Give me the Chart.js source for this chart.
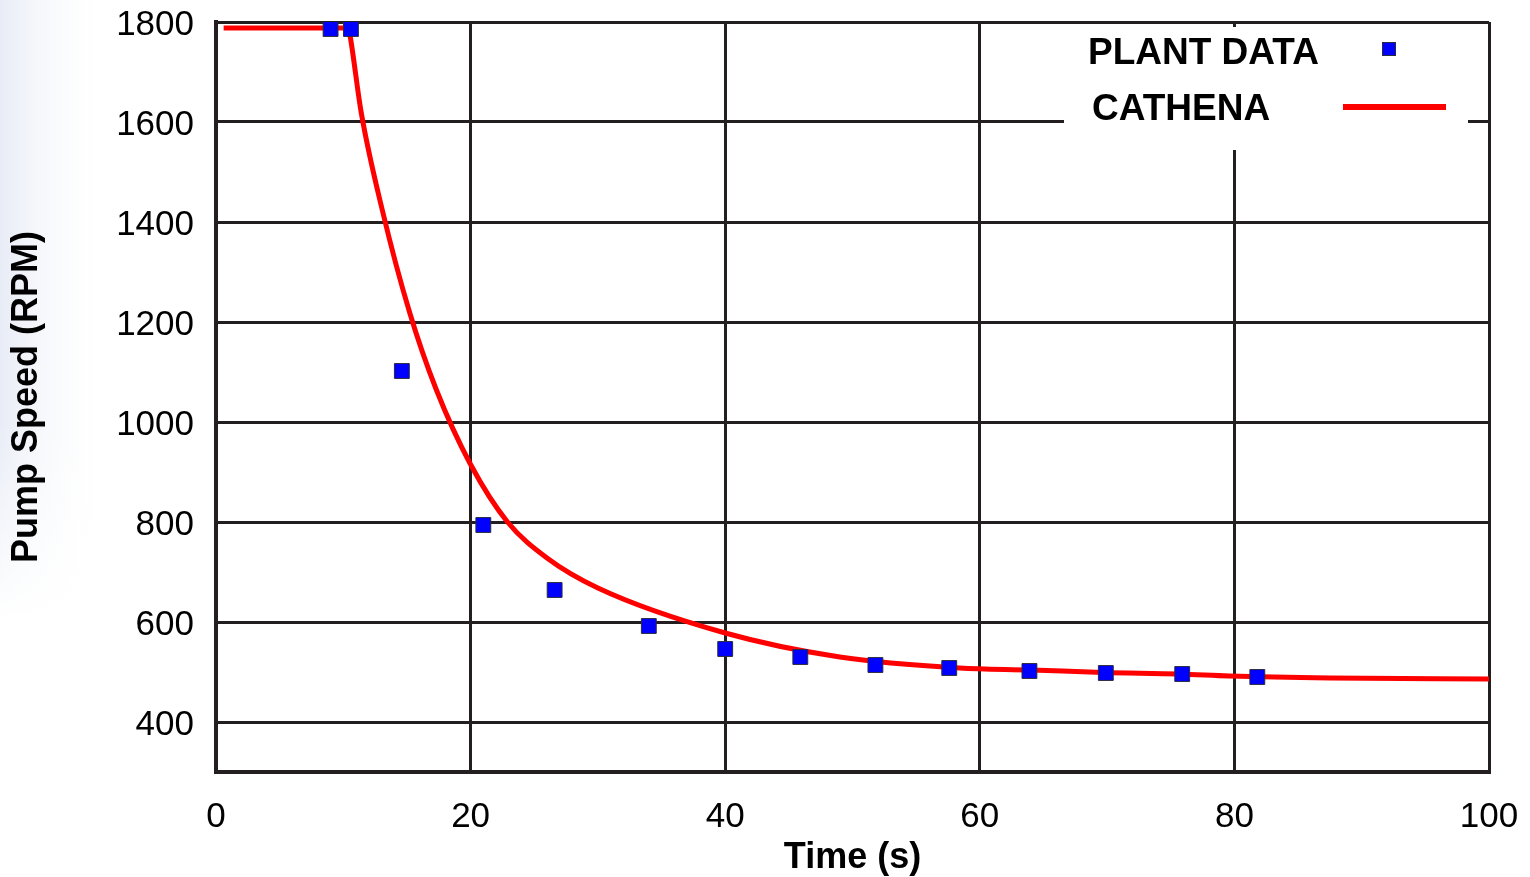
<!DOCTYPE html>
<html>
<head>
<meta charset="utf-8">
<script src="https://cdn.jsdelivr.net/npm/chart.js@4.4.1/dist/chart.umd.min.js"></script>
<style>
  html, body { margin: 0; padding: 0; background: #ffffff; }
  #wrap { width: 1530px; height: 877px; position: relative; }
</style>
</head>
<body>
<div id="wrap"><canvas id="c" width="1530" height="877"></canvas></div>
<script>
// ---- data ----
const plantTime  = [9.0, 10.6, 14.6, 21.0, 26.6, 34.0, 40.0, 45.9, 51.8, 57.6, 63.9, 69.9, 75.9, 81.8];
const plantSpeed = [1786, 1786, 1102, 794, 664, 592, 546, 530, 514, 508, 502, 498, 496, 490];

const cathenaTime  = [0.6, 10.4, 10.55, 11.4, 13.1, 15.2, 17.3, 20.0, 22.9, 26.0, 30.0, 40.0, 49.0, 58.4, 64.0, 69.7, 75.7, 79.6, 87.5, 100];
const cathenaSpeed = [1788, 1788, 1770, 1620, 1420, 1220, 1065, 915, 800, 728, 668, 578, 530, 508, 504, 499, 496, 492, 488, 486];

const xTicks = [0, 20, 40, 60, 80, 100];
const yTicks = [400, 600, 800, 1000, 1200, 1400, 1600, 1800];

const seriesNames = ['PLANT DATA', 'CATHENA'];
const xTitle = 'Time (s)';
const yTitle = 'Pump Speed (RPM)';

const FONT = '"Liberation Sans", Arial, Helvetica, sans-serif';
const GRID = '#231f20';

const bgPlugin = {
  id: 'bg',
  beforeDraw(chart) {
    const ctx = chart.ctx;
    ctx.save();
    ctx.fillStyle = '#ffffff';
    ctx.fillRect(0, 0, chart.width, chart.height);
    const g = ctx.createLinearGradient(0, 0, 110, 0);
    g.addColorStop(0, 'rgba(232,236,246,1)');
    g.addColorStop(1, 'rgba(255,255,255,0)');
    ctx.fillStyle = g;
    ctx.fillRect(0, 0, 110, 620);
    const v = ctx.createLinearGradient(0, 420, 0, 620);
    v.addColorStop(0, 'rgba(255,255,255,0)');
    v.addColorStop(1, 'rgba(255,255,255,1)');
    ctx.fillStyle = v;
    ctx.fillRect(0, 420, 110, 200);
    ctx.restore();
  }
};

const legendPlugin = {
  id: 'boxLegend',
  afterDatasetsDraw(chart) {
    const ctx = chart.ctx;
    const ds0 = chart.data.datasets[0];
    const ds1 = chart.data.datasets[1];
    ctx.save();
    ctx.fillStyle = '#ffffff';
    ctx.fillRect(1064, 27, 404, 123);
    ctx.font = 'bold 37px ' + FONT;
    ctx.fillStyle = '#000000';
    ctx.textBaseline = 'middle';
    ctx.textAlign = 'left';
    ctx.fillText(ds0.label, 1088, 54);
    ctx.fillText(ds1.label, 1092, 110);
    // marker
    ctx.fillStyle = ds0.pointBackgroundColor;
    ctx.strokeStyle = ds0.pointBorderColor;
    ctx.lineWidth = 1;
    ctx.fillRect(1382, 42, 14, 14);
    ctx.strokeRect(1382.5, 42.5, 13, 13);
    // line
    ctx.strokeStyle = ds1.borderColor;
    ctx.lineWidth = 6;
    ctx.beginPath();
    ctx.moveTo(1343, 107);
    ctx.lineTo(1446, 107);
    ctx.stroke();
    ctx.restore();
  }
};

new Chart(document.getElementById('c'), {
  type: 'scatter',
  data: {
    datasets: [
      {
        label: seriesNames[0],
        data: plantTime.map((t, i) => ({ x: t, y: plantSpeed[i] })),
        pointStyle: 'rect',
        pointRadius: 10.5,
        pointHoverRadius: 10.5,
        pointBackgroundColor: '#0000ff',
        pointBorderColor: '#2a2a40',
        pointBorderWidth: 1,
        showLine: false,
        order: 0
      },
      {
        label: seriesNames[1],
        data: cathenaTime.map((t, i) => ({ x: t, y: cathenaSpeed[i] })),
        showLine: true,
        borderColor: '#ff0000',
        borderWidth: 5,
        pointRadius: 0,
        cubicInterpolationMode: 'monotone',
        fill: false,
        order: 1
      }
    ]
  },
  options: {
    responsive: false,
    animation: false,
    events: [],
    layout: { padding: { top: 22, right: 41, left: 0, bottom: 0 } },
    plugins: {
      legend: { display: false },
      tooltip: { enabled: false }
    },
    scales: {
      x: {
        type: 'linear',
        min: 0, max: 100,
        afterBuildTicks(scale) { scale.ticks = xTicks.map(v => ({ value: v })); },
        afterFit(scale) { scale.height = 105; scale.paddingLeft = 0; scale.paddingRight = 0; },
        grid: { color: GRID, lineWidth: 3, drawTicks: false },
        border: { display: true, color: GRID, width: 4 },
        ticks: {
          color: '#000000',
          font: { family: FONT, size: 35 },
          padding: 24,
          maxRotation: 0,
          autoSkip: false,
          callback: v => String(v)
        },
        title: {
          display: true,
          text: xTitle,
          color: '#000000',
          font: { family: FONT, size: 36, weight: 'bold' },
          padding: { top: 0, bottom: -3 }
        }
      },
      y: {
        type: 'linear',
        min: 300, max: 1800,
        afterBuildTicks(scale) { scale.ticks = yTicks.map(v => ({ value: v })); },
        afterFit(scale) { scale.width = 216; scale.paddingTop = 0; scale.paddingBottom = 0; },
        grid: { color: GRID, lineWidth: 3, drawTicks: false },
        border: { display: true, color: GRID, width: 4 },
        ticks: {
          color: '#000000',
          font: { family: FONT, size: 35 },
          padding: 22,
          labelOffset: 3,
          autoSkip: false,
          callback: v => String(v)
        },
        title: {
          display: true,
          text: yTitle,
          color: '#000000',
          font: { family: FONT, size: 36, weight: 'bold' },
          padding: { top: 5, bottom: 0 }
        }
      }
    }
  },
  plugins: [bgPlugin, legendPlugin]
});
</script>
</body>
</html>
